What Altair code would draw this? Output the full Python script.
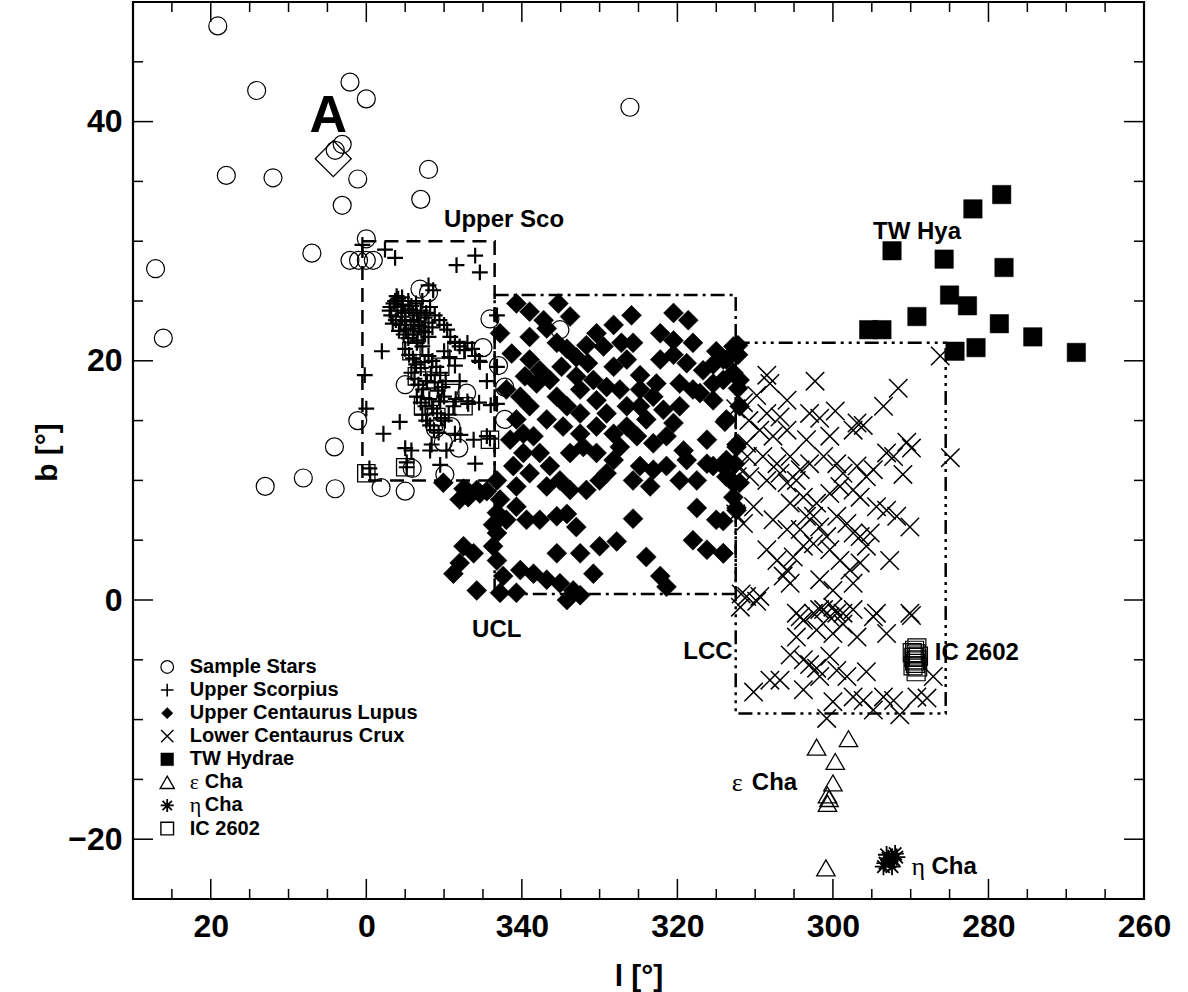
import altair as alt
import pandas as pd

# ---------------- data (galactic l in degrees, b in degrees) ----------------
sample_stars = [
    (19.1, 48.0), (14.1, 42.6), (2.1, 43.3), (0.0, 41.9), (326.1, 41.2),
    (3.1, 38.1), (4.0, 37.6), (18.0, 35.5), (12.0, 35.3), (1.1, 35.2),
    (352.0, 36.0), (353.0, 33.5), (3.1, 33.0), (0.0, 30.2),
    (27.1, 27.7), (26.1, 21.9), (7.0, 29.0), (2.1, 28.4), (1.0, 28.4),
    (0.0, 28.4), (359.1, 28.4), (353.1, 26.0), (352.0, 25.7), (344.1, 23.5),
    (335.1, 22.6), (345.0, 21.1), (343.0, 19.6), (342.2, 17.8), (355.0, 18.0),
    (347.1, 17.3), (1.1, 15.0), (342.2, 15.1), (349.1, 14.5), (351.1, 14.3),
    (348.1, 12.7), (350.1, 13.2), (4.1, 12.8), (354.1, 11.0), (349.9, 10.5),
    (13.0, 9.5), (8.1, 10.2), (4.0, 9.3), (358.1, 9.4), (355.0, 9.1),
]
star_a = [(4.25, 36.9)]

upper_sco = [
    (0.5, 29.7), (357.6, 29.3), (356.3, 28.6), (348.4, 28.0), (346.0, 28.8),
    (345.4, 27.4), (351.4, 25.9), (356.1, 25.4), (355.9, 25.2), (358.0, 20.8),
    (0.2, 18.8), (0.0, 16.0), (355.7, 14.9), (357.8, 13.9), (355.0, 12.7),
    (354.2, 12.5), (351.6, 13.0), (349.7, 12.5), (348.6, 13.9), (346.2, 13.4),
    (344.5, 13.7), (350.5, 11.3), (346.0, 11.4), (359.6, 11.0), (354.8, 11.1),
    (348.0, 18.3), (344.5, 18.3), (345.4, 19.9), (350.5, 16.6), (343.2, 23.8),
    (343.2, 16.4), (346.9, 16.4), (343.2, 19.5), (344.1, 13.5), (351.8, 12.5),
    (347.9, 13.8), (359.5, 10.5), (352.0, 26.3), (354.8, 11.5),
    (356.5, 24.8), (356.0, 24.5), (355.5, 24.2), (355.0, 24.0), (354.5, 24.3),
    (354.0, 24.0), (353.5, 23.8), (353.0, 24.2), (352.5, 23.6), (352.0, 23.2),
    (356.8, 23.8), (356.2, 23.4), (355.6, 23.0), (355.0, 23.3), (354.3, 23.0),
    (353.8, 22.7), (353.2, 22.9), (352.6, 22.4), (352.0, 22.0), (351.5, 22.8),
    (355.8, 22.5), (355.2, 22.2), (354.6, 21.9), (354.0, 22.2), (353.4, 21.7),
    (357.0, 24.2), (356.3, 25.0), (355.4, 25.3), (354.6, 25.0), (353.6, 24.8),
    (352.8, 25.0), (351.8, 24.5), (351.2, 23.8), (350.6, 23.4), (350.0, 23.0),
    (349.6, 22.6), (349.2, 22.0), (348.6, 21.5), (348.0, 21.2), (347.4, 20.9),
    (347.0, 21.5), (346.4, 21.0), (346.0, 20.4), (345.5, 20.0),
    (355.0, 21.0), (354.5, 20.5), (354.0, 20.2), (353.6, 19.7), (353.0, 19.4),
    (352.5, 19.9), (352.0, 20.4), (351.5, 20.0), (351.0, 19.5), (350.5, 19.0),
    (354.2, 19.0), (353.8, 18.5), (353.3, 18.0), (352.7, 17.6), (352.2, 18.3),
    (351.7, 18.8), (351.2, 18.2), (350.8, 17.5), (350.2, 17.8), (349.8, 18.3),
    (353.5, 17.0), (353.0, 16.5), (352.4, 16.2), (351.9, 16.8), (351.4, 16.0),
    (350.9, 15.6), (350.4, 15.2), (349.9, 15.0), (349.4, 15.5), (348.8, 16.2),
    (352.8, 15.5), (352.3, 15.0), (351.8, 14.6), (351.3, 14.2), (350.7, 14.0),
    (353.5, 21.5), (352.8, 21.2), (350.0, 20.8), (349.3, 20.3), (348.6, 19.6),
    (350.0, 17.0), (348.5, 16.8), (347.0, 16.6), (345.5, 16.5), (344.0, 16.3),
    (356.9, 24.5), (355.3, 24.7), (354.2, 24.6), (353.3, 23.3), (352.3, 24.0),
    (356.6, 23.1), (355.4, 23.7), (354.9, 22.6), (353.9, 23.4), (352.9, 22.5),
]
upper_sco_sq = [
    (354.2, 20.8), (352.7, 19.8), (353.5, 18.7), (350.5, 19.5), (351.8, 17.0),
    (349.2, 17.3), (352.7, 16.2), (351.0, 15.3), (347.5, 16.2), (344.1, 13.4),
    (0.0, 10.6), (355.0, 11.1), (348.4, 20.9), (353.5, 22.3),
]

ucl = [
    (340.7, 24.8), (339.0, 24.1), (335.3, 24.8), (333.8, 23.7), (336.8, 22.7),
    (325.9, 23.8), (320.5, 24.0), (318.6, 23.4), (328.2, 23.0), (330.4, 22.3),
    (329.5, 21.2), (327.2, 21.5), (334.2, 21.0), (331.7, 21.3), (320.5, 21.7),
    (318.0, 21.5), (315.0, 20.8), (312.8, 21.2), (341.3, 20.6), (339.0, 20.1),
    (342.8, 22.3), (337.7, 19.2), (339.6, 18.7), (334.9, 19.5), (333.0, 18.7),
    (331.5, 19.8), (328.2, 19.5), (326.5, 20.1), (324.8, 18.8), (322.2, 20.1),
    (320.5, 20.5), (318.8, 19.8), (316.7, 19.2), (315.4, 19.7), (313.7, 20.1),
    (312.0, 18.4), (312.0, 16.2), (317.1, 17.3), (315.4, 16.7), (313.7, 15.1),
    (342.0, 17.6), (340.2, 17.0), (339.0, 16.2), (335.5, 17.0), (334.2, 16.2),
    (332.5, 15.6), (330.4, 16.7), (329.1, 15.6), (326.5, 16.2), (324.8, 17.6),
    (323.1, 17.0), (321.8, 15.9), (319.7, 16.2), (320.5, 14.8), (324.0, 15.1),
    (326.5, 14.5), (328.2, 13.9), (330.4, 14.5), (332.5, 13.9), (334.7, 14.5),
    (336.8, 15.1), (338.5, 13.7), (340.7, 15.1), (341.5, 13.4), (337.7, 12.3),
    (339.8, 12.3), (341.1, 11.2), (339.0, 10.6), (336.4, 11.2), (335.1, 10.0),
    (336.8, 9.5), (333.8, 12.3), (332.1, 12.8), (330.4, 12.3), (328.2, 11.7),
    (327.4, 12.8), (325.2, 13.7), (323.1, 13.1), (321.4, 13.7), (319.2, 12.5),
    (316.2, 13.4), (313.7, 11.7), (312.4, 12.8), (315.4, 11.2), (317.5, 10.0),
    (319.7, 10.0), (324.8, 11.2), (323.5, 9.5), (325.7, 10.0), (330.0, 10.0),
    (331.7, 9.2), (333.8, 9.2), (340.7, 9.5), (343.2, 10.0), (345.4, 8.9),
    (347.1, 9.2), (348.0, 8.4), (342.8, 8.4), (340.7, 7.8), (342.0, 6.7),
    (339.4, 6.7), (337.7, 6.7), (335.5, 7.0), (334.2, 7.2), (333.0, 6.1),
    (343.2, 5.6), (343.7, 4.5), (343.2, 3.3), (346.2, 3.9), (347.5, 4.5),
    (348.8, 2.2), (345.8, 0.8), (348.0, 3.1), (342.4, 2.0), (340.2, 2.5),
    (338.5, 2.2), (336.8, 1.7), (335.1, 1.4), (333.4, 0.8), (334.2, 0.0),
    (332.5, 0.4), (335.5, 3.9), (332.5, 3.9), (330.0, 4.5), (327.8, 4.9),
    (330.8, 2.2), (325.7, 6.8), (324.0, 3.6), (322.2, 2.0), (321.4, 1.1),
    (317.5, 7.7), (315.0, 6.7), (318.0, 5.0), (316.2, 4.2), (314.1, 3.9),
    (312.4, 7.5), (342.8, 0.6), (340.7, 0.6), (343.2, 7.3), (343.7, 6.3),
    (312.0, 9.8), (312.8, 8.6), (313.7, 10.3), (316.2, 11.4), (318.8, 11.7),
    (321.4, 11.2), (323.1, 10.9), (329.1, 10.6), (339.8, 13.9), (338.1, 18.1),
    (336.4, 18.4), (332.5, 17.6), (330.8, 18.4), (329.1, 17.8), (327.4, 17.6),
    (324.8, 16.2), (322.7, 18.1), (319.7, 18.1), (318.0, 17.6), (315.4, 18.1),
    (314.1, 18.4), (339.0, 22.0), (337.2, 23.4), (325.7, 21.5), (322.2, 22.3),
    (335.5, 21.5), (333.0, 20.3),
    (350.1, 9.8), (347.5, 9.3), (345.8, 9.2), (344.5, 9.1), (346.9, 8.6),
    (312.2, 21.3), (312.2, 20.5), (314.1, 20.1), (312.8, 19.0), (312.2, 17.7),
    (313.9, 14.9), (312.4, 13.0), (312.6, 11.4), (314.1, 11.2), (313.0, 9.9),
    (312.4, 7.7), (314.1, 6.6), (314.1, 3.9),
]

lcc = [
    (308.5, 18.8), (308.1, 18.1), (302.3, 18.3), (291.6, 17.7), (293.5, 16.2),
    (309.8, 17.1), (305.9, 16.7), (308.5, 15.6), (306.8, 15.3), (303.0, 15.6),
    (301.7, 15.2), (299.7, 15.8), (296.9, 14.8), (297.4, 14.2), (296.1, 14.6),
    (309.4, 14.2), (307.7, 13.7), (305.9, 14.2), (303.4, 13.4), (300.4, 13.7),
    (290.5, 13.2), (289.9, 12.7), (292.2, 12.0), (293.1, 12.3), (284.9, 11.9),
    (311.1, 13.1), (309.0, 12.0), (307.2, 11.4), (305.5, 12.0), (304.2, 10.9),
    (303.0, 11.4), (301.2, 12.0), (299.5, 11.4), (298.7, 10.6), (296.9, 11.2),
    (295.7, 10.3), (294.8, 10.9), (291.0, 10.5), (310.7, 10.3), (308.5, 10.0),
    (306.8, 10.6), (305.9, 9.8), (304.7, 10.0), (310.2, 7.8), (311.5, 6.4),
    (307.7, 6.7), (305.5, 8.1), (303.8, 8.6), (302.1, 8.1), (300.4, 8.9),
    (299.1, 9.5), (297.4, 9.2), (296.5, 8.6), (294.4, 7.8), (293.1, 7.5),
    (291.8, 7.0), (290.1, 6.1), (302.5, 7.0), (301.7, 6.1), (300.8, 5.3),
    (299.5, 7.0), (298.2, 6.4), (297.4, 5.6), (296.5, 5.3), (295.2, 5.6),
    (304.2, 5.9), (308.5, 4.2), (307.2, 3.3), (305.9, 2.5), (305.5, 1.4),
    (303.8, 4.5), (302.5, 4.7), (300.4, 4.2), (299.1, 3.3), (297.8, 2.5),
    (296.5, 3.1), (295.7, 4.5), (292.7, 3.3), (301.7, 1.7), (300.0, 0.8),
    (297.4, 1.4), (311.1, 0.3), (309.4, 0.3), (304.2, -1.4), (301.7, -0.8),
    (300.0, -0.6), (298.7, -1.1), (294.4, -1.1), (290.1, -1.1), (305.9, 5.9),
    (303.4, 7.0), (305.1, 3.6), (306.4, 2.0), (286.2, 20.4),
    (312.5, 16.0), (312.0, 11.0), (312.3, 10.3), (312.5, 7.2), (311.8, 0.5),
    (311.5, 16.5), (310.8, 15.0), (311.0, 12.0),
    (309.8, -0.1), (304.7, -1.1), (303.8, -1.7), (302.5, -1.1), (301.2, -0.8),
    (300.4, -1.4), (299.5, -1.1), (298.7, -2.0), (297.4, -0.8), (294.8, -1.4),
    (289.9, -1.3), (304.7, -3.1), (302.1, -2.5), (300.0, -2.8), (296.9, -3.1),
    (293.1, -2.8), (305.5, -4.6), (303.8, -5.0), (303.0, -5.4), (302.1, -5.7),
    (301.7, -6.4), (300.4, -4.7), (306.8, -6.7), (308.1, -6.7), (310.2, -7.7),
    (303.8, -7.5), (299.5, -5.9), (298.2, -6.4), (295.7, -6.0), (300.0, -8.5),
    (297.4, -8.1), (296.1, -8.4), (293.5, -8.1), (292.2, -8.4), (289.2, -8.1),
    (287.9, -8.2), (287.1, -6.4), (300.8, -9.9), (294.8, -9.2), (291.4, -9.6),
    (311.9, -0.6),
]

tw_hya = [
    (292.4, 29.2), (282.0, 32.7), (278.3, 33.9), (285.7, 28.5), (278.0, 27.8),
    (285.0, 25.5), (282.7, 24.6), (289.2, 23.7), (295.4, 22.6), (293.7, 22.6),
    (278.6, 23.1), (274.3, 22.0), (268.7, 20.7), (284.3, 20.8), (281.6, 21.1),
]
eps_cha = [
    (302.1, -12.3), (298.0, -11.6), (299.7, -13.5), (300.0, -15.3), (300.7, -16.3),
    (300.5, -16.6), (300.7, -17.0), (300.9, -22.4),
]
eta_cha = [
    (293.3, -22.0), (292.9, -21.6), (292.2, -21.7), (291.8, -21.5), (292.7, -21.9),
    (293.5, -22.3), (292.0, -21.2), (292.4, -22.3), (293.1, -21.3),
]
ic2602 = [
    (289.5, -4.2), (289.3, -4.5), (289.6, -4.8), (289.2, -5.0), (289.4, -5.3),
    (289.1, -5.6), (289.8, -4.4), (289.0, -4.7), (289.3, -6.0), (289.5, -5.1),
    (289.2, -4.0), (289.7, -5.5),
]

# region boxes: l_start, l_end, b_low, b_high
box_usco = [(0.5, 343.5, 10.0, 30.0)]
box_ucl = [(343.5, 312.5, 0.5, 25.5)]
box_lcc = [(312.5, 285.5, -9.5, 21.5)]

# text annotations
annot_text = ["Upper Sco", "TW Hya", "UCL", "IC 2602"]
annot_l = [350.0, 294.85, 346.4, 286.9]
annot_b = [31.8, 30.8, -2.5, -4.45]
lcc_text = ["LCC"]
lcc_text_l = [312.9]
lcc_text_b = [-4.35]
big_a_text = ["A"]
big_a_l = [4.9]
big_a_b = [40.5]
greek_text = ["ε", "η"]
greek_l = [313.0, 289.9]
greek_b = [-15.3, -22.3]

legend_names = ["Sample Stars", "Upper Scorpius", "Upper Centaurus Lupus",
                "Lower Centaurus Crux", "TW Hydrae", "ε", "η", "IC 2602"]

x_major = [20, 0, -20, -40, -60, -80]
x_minor = [25, 15, 10, 5, -5, -10, -15, -25, -30, -35, -45, -50, -55, -65, -70,
           -75, -85, -90, -95]
y_major = [40, 20, 0, -20]
y_minor = [45, 35, 30, 25, 15, 10, 5, -5, -10, -15]

# ---------------- chart ----------------
W, H = 1011, 897
FONT = "Liberation Sans"
PLUS = "M-1,0L1,0M0,-1L0,1"
XMARK = "M-1,-1L1,1M-1,1L1,-1"
AST = "M-1,0L1,0M0,-1L0,1M-0.72,-0.72L0.72,0.72M-0.72,0.72L0.72,-0.72"

xs = alt.Scale(domain=[-100, 30], reverse=True, nice=False, zero=False)
ys = alt.Scale(domain=[-25, 50], nice=False, zero=False)

x_axis = alt.Axis(values=[20, 0, -20, -40, -60, -80, -100],
                  labelExpr="datum.value < 0 ? '' + (datum.value + 360) : '' + datum.value",
                  title="l [°]", ticks=False, domain=False, grid=False,
                  labelFont=FONT, labelFontWeight="bold", labelFontSize=32,
                  labelColor="black", labelPadding=12, labelOverlap=False,
                  labelFlush=False, labelBound=False,
                  titleFont=FONT, titleFontWeight="bold", titleFontSize=30,
                  titleColor="black", titleY=86, titleBaseline="alphabetic")
y_axis = alt.Axis(values=[40, 20, 0, -20],
                  labelExpr="datum.value < 0 ? '\u2212' + (-datum.value) : '' + datum.value",
                  title="b [°]", ticks=False, domain=False, grid=False,
                  labelFont=FONT, labelFontWeight="bold", labelFontSize=32,
                  labelColor="black", labelPadding=11, labelOverlap=False,
                  labelFlush=False, labelBound=False,
                  titleFont=FONT, titleFontWeight="bold", titleFontSize=30,
                  titleColor="black", titleX=-77, titleY=450, titleAngle=270,
                  titleAlign="center", titleBaseline="alphabetic")

CALC = "datum.l > 180 ? datum.l - 360 : datum.l"


def XE(field):
    return alt.X(field, scale=xs, axis=x_axis)


def YE(field):
    return alt.Y(field, scale=ys, axis=y_axis)


def frame(pairs):
    return pd.DataFrame(pairs, columns=["l", "b"])


def pts(pairs, shape, size, filled=False, sw=1.3):
    base = alt.Chart(frame(pairs)).transform_calculate(x=CALC)
    if filled:
        m = base.mark_point(shape=shape, filled=True, fill="black", stroke="black",
                            strokeWidth=0.5, size=size, opacity=1)
    else:
        m = base.mark_point(shape=shape, filled=False, color="black", stroke="black",
                            strokeWidth=sw, size=size, opacity=1)
    return m.encode(x=XE("x:Q"), y=YE("b:Q"))


def box(rows, dash):
    d = pd.DataFrame(rows, columns=["l1", "l2", "b1", "b2"])
    return alt.Chart(d).transform_calculate(
        x="datum.l1 > 180 ? datum.l1 - 360 : datum.l1",
        xb="datum.l2 > 180 ? datum.l2 - 360 : datum.l2",
    ).mark_rect(fill="white", fillOpacity=0, stroke="black", strokeWidth=2.5,
                strokeDash=dash).encode(
        x=XE("x:Q"), x2="xb:Q", y=YE("b1:Q"), y2="b2:Q")


def texts(words, ls, bs, size=24, align="left", weight="bold", font=FONT, dx=0):
    d = pd.DataFrame({"t": words, "l": ls, "b": bs})
    return alt.Chart(d).transform_calculate(x=CALC).mark_text(
        font=font, fontWeight=weight, fontSize=size, align=align,
        baseline="middle", color="black", dx=dx).encode(x=XE("x:Q"), y=YE("b:Q"), text="t:N")


def xticks(vals, y0, y1):
    d = pd.DataFrame({"x": vals})
    return alt.Chart(d).mark_rule(color="black", strokeWidth=1.5).encode(
        x=XE("x:Q"), y=alt.value(y0), y2=alt.value(y1))


def yticks(vals, x0, x1):
    d = pd.DataFrame({"b": vals})
    return alt.Chart(d).mark_rule(color="black", strokeWidth=1.5).encode(
        y=YE("b:Q"), x=alt.value(x0), x2=alt.value(x1))


MAJ, MIN = 20, 10
layers = [
    xticks(x_major, H, H - MAJ), xticks(x_minor, H, H - MIN),
    xticks(x_major, 0, MAJ), xticks(x_minor, 0, MIN),
    yticks(y_major, 0, MAJ), yticks(y_minor, 0, MIN),
    yticks(y_major, W, W - MAJ), yticks(y_minor, W, W - MIN),
    box(box_usco, [14, 8]),
    box(box_ucl, [14, 5, 3, 5]),
    box(box_lcc, [14, 5, 3, 5, 3, 5, 3, 5]),
    pts(ucl, "diamond", 400, filled=True),
    pts(lcc, XMARK, 340, sw=1.5),
    pts(upper_sco, PLUS, 250, sw=2.2),
    pts(upper_sco_sq, "square", 300, sw=1.3),
    pts(sample_stars, "circle", 324, sw=1.2),
    pts(star_a, "diamond", 1300, sw=1.3),
    pts(tw_hya, "square", 340, filled=True),
    pts(eps_cha, "triangle-up", 340, sw=1.3),
    pts(eta_cha, AST, 300, sw=1.8),
    pts(ic2602, "square", 324, sw=1.2),
    texts(annot_text, annot_l, annot_b),
    texts(lcc_text, lcc_text_l, lcc_text_b, align="right"),
    texts(big_a_text, big_a_l, big_a_b, size=52, align="center"),
    texts(greek_text, greek_l, greek_b, weight="normal", font="Liberation Serif", size=26),
    texts(["Cha", "Cha"], greek_l, greek_b, dx=20),
]

# legend (lower left)
leg_top, leg_step = -5.6, 1.93
leg_b = [leg_top - i * leg_step for i in range(len(legend_names))]
sym_l, txt_l = 25.6, 22.7
leg_styles = [
    ("circle", 160, False, 1.2), (PLUS, 160, False, 1.6), ("diamond", 130, True, 1),
    (XMARK, 150, False, 1.4), ("square", 160, True, 1), ("triangle-up", 200, False, 1.4),
    (AST, 170, False, 1.8), ("square", 160, False, 1.4),
]
for i, (shp, sz, fl, sw) in enumerate(leg_styles):
    layers.append(pts([(sym_l, leg_b[i])], shp, sz, filled=fl, sw=sw))
plain_idx = [0, 1, 2, 3, 4, 7]
layers.append(texts([legend_names[i] for i in plain_idx], [txt_l] * 6,
                    [leg_b[i] for i in plain_idx], size=20))
layers.append(texts([legend_names[5], legend_names[6]], [txt_l] * 2,
                    [leg_b[5], leg_b[6]], size=22, weight="normal", font="Liberation Serif"))
layers.append(texts(["Cha", "Cha"], [txt_l] * 2, [leg_b[5], leg_b[6]], size=20, dx=15))

chart = alt.layer(*layers).properties(
    width=W, height=H,
    padding={"left": 133, "top": 2, "right": 44, "bottom": 93},
    autosize="none", background="white",
).configure_view(stroke="black", strokeWidth=2.2)

chart.save("out.html", embed_options={"renderer": "svg", "actions": False})
